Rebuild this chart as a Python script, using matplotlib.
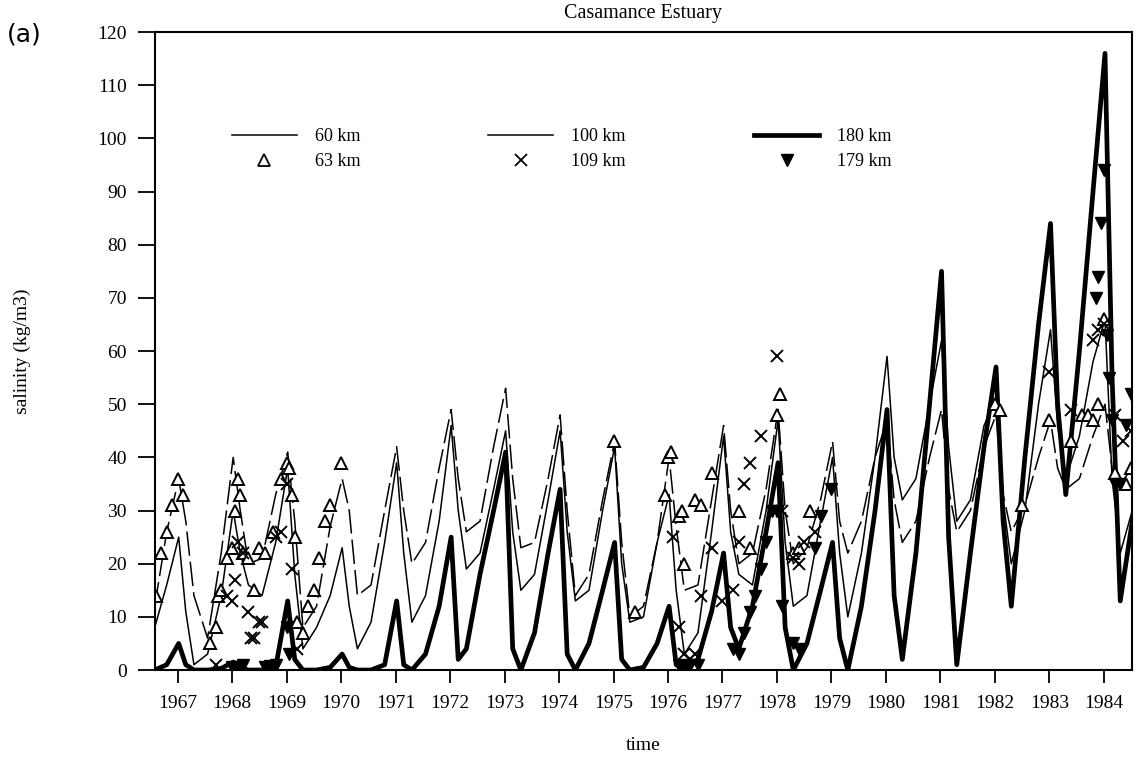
import numpy as np
import matplotlib
matplotlib.use("Agg")
import matplotlib.pyplot as plt
from matplotlib.lines import Line2D

plt.rcParams['font.family'] = ['Liberation Serif', 'DejaVu Serif']

# model output: one cycle per year, sampled at these fractions of the year
years = np.arange(1967, 1985)
phase = np.array([0.02, 0.15, 0.3, 0.55, 0.8])
t_start = [1966.58, 1966.8]
t_end = 1984.52

# 60 km (dashed)
s60 = [12, 26,
       36, 28, 14, 6, 22,
       40, 30, 20, 21, 33,
       41, 28, 8, 12, 27,
       36, 30, 14, 16, 30,
       42, 30, 20, 24, 38,
       49, 36, 26, 28, 42,
       53, 36, 23, 24, 36,
       48, 30, 14, 18, 32,
       43, 24, 10, 12, 24,
       40, 27, 15, 16, 32,
       46, 30, 20, 22, 34,
       49, 30, 20, 23, 32,
       43, 28, 22, 28, 40,
       47, 32, 24, 28, 40,
       49, 34, 26, 30, 42,
       48, 33, 26, 31, 40,
       47, 38, 34, 36, 44,
       50, 38, 35, 38]

# 100 km (thin)
s100 = [8, 16,
        25, 11, 1, 3, 14,
        30, 22, 16, 14, 24,
        38, 18, 4, 8, 14,
        23, 12, 4, 9, 24,
        39, 22, 9, 14, 28,
        46, 30, 19, 22, 34,
        45, 26, 15, 18, 32,
        45, 26, 13, 15, 30,
        42, 20, 9, 10, 24,
        33, 15, 3, 7, 26,
        44, 26, 18, 16, 30,
        47, 24, 12, 14, 28,
        40, 22, 10, 22, 40,
        59, 40, 32, 36, 50,
        62, 42, 28, 32, 46,
        51, 32, 20, 30, 50,
        64, 46, 36, 44, 58,
        66, 36, 22, 30]

# 180 km (thick)
s180 = [0, 1,
        5, 1, 0, 0, 0.3,
        1.5, 0.5, 0, 0, 0.5,
        13, 2, 0, 0, 0.5,
        3, 0.5, 0, 0, 1,
        13, 1, 0, 3, 12,
        25, 2, 4, 18, 30,
        41, 4, 0, 7, 22,
        34, 3, 0, 5, 15,
        24, 2, 0, 0.5, 5,
        12, 1, 0, 2, 11,
        22, 8, 4, 12, 26,
        39, 8, 0, 5, 15,
        24, 6, 0, 12, 30,
        49, 14, 2, 22, 50,
        75, 25, 1, 22, 42,
        57, 28, 12, 40, 65,
        84, 50, 33, 60, 90,
        116, 55, 13, 28]

# observations
obs63_t = [1966.6, 1966.7, 1966.8, 1966.9, 1967.0, 1967.1,
           1967.6, 1967.7, 1967.75, 1967.8, 1967.9, 1968.0, 1968.05, 1968.1,
           1968.15, 1968.2, 1968.3, 1968.4, 1968.5, 1968.6, 1968.75, 1968.9,
           1969.0, 1969.05, 1969.1, 1969.15, 1969.2, 1969.3, 1969.4, 1969.5,
           1969.6, 1969.7, 1969.8, 1970.0,
           1975.0, 1975.4, 1975.95, 1976.0, 1976.05, 1976.2, 1976.25, 1976.3,
           1976.5, 1976.6, 1976.8, 1977.3, 1977.5, 1978.0, 1978.05, 1978.3,
           1978.4, 1978.6, 1982.0, 1982.1, 1982.5, 1983.0, 1983.4, 1983.6,
           1983.7, 1983.8, 1983.9, 1984.0, 1984.2, 1984.4, 1984.5]
obs63_v = [14, 22, 26, 31, 36, 33,
           5, 8, 14, 15, 21, 23, 30, 36,
           33, 22, 21, 15, 23, 22, 26, 36,
           39, 38, 33, 25, 9, 7, 12, 15,
           21, 28, 31, 39,
           43, 11, 33, 40, 41, 29, 30, 20,
           32, 31, 37, 30, 23, 48, 52, 22,
           23, 30, 50, 49, 31, 47, 43, 48,
           48, 47, 50, 66, 37, 35, 38]

obs109_t = [1967.7, 1967.9, 1968.0, 1968.05, 1968.1, 1968.2, 1968.3, 1968.35,
            1968.4, 1968.5, 1968.55, 1968.8, 1968.9, 1969.0, 1969.1, 1969.2,
            1976.1, 1976.2, 1976.3, 1976.4, 1976.5, 1976.6, 1976.8, 1977.0,
            1977.2, 1977.3, 1977.4, 1977.5, 1977.7, 1978.0, 1978.1, 1978.3,
            1978.4, 1978.5, 1978.7,
            1983.0, 1983.4, 1983.8, 1983.9, 1984.0, 1984.2, 1984.35, 1984.5]
obs109_v = [1, 14, 13, 17, 24, 22, 11, 6,
            6, 9, 9, 25, 26, 35, 19, 4,
            25, 8, 3, 2, 3, 14, 23, 13,
            15, 24, 35, 39, 44, 59, 30, 21,
            20, 24, 26,
            56, 49, 62, 64, 65, 48, 43, 45]

obs179_t = [1968.0, 1968.1, 1968.2, 1968.6, 1968.7, 1968.8, 1969.0, 1969.05,
            1976.2, 1976.3, 1976.4, 1976.55, 1977.2, 1977.3, 1977.4, 1977.5,
            1977.6, 1977.7, 1977.8, 1977.9, 1978.0, 1978.1, 1978.3, 1978.4,
            1978.7, 1978.8, 1979.0,
            1983.85, 1983.9, 1983.95, 1984.0, 1984.05, 1984.1, 1984.15, 1984.2,
            1984.3, 1984.4, 1984.5]
obs179_v = [0.5, 0.5, 1, 0.5, 0.7, 1, 8, 3,
            1, 0.5, 1, 1, 4, 3, 7, 11,
            14, 19, 24, 30, 30, 12, 5, 4,
            23, 29, 34,
            70, 74, 84, 94, 63, 55, 47, 35,
            35, 46, 52]

# last cycle is cut short at the right edge
t_model = np.concatenate([t_start, (years[:, None] + phase).ravel()[:-2], [t_end]])

fig = plt.figure(figsize=(11.46, 7.64), dpi=100)
ax = fig.add_axes([0.135, 0.123, 0.853, 0.835])

ax.plot(t_model, s60, color='black', lw=1.1, ls=(0, (16, 4)))
ax.plot(t_model, s100, color='black', lw=1.1)
ax.plot(t_model, s180, color='black', lw=3.4)

ax.plot(obs63_t, obs63_v, ls='none', marker='^', ms=9, mfc='white', mec='black', mew=1.4)
ax.plot(obs109_t, obs109_v, ls='none', marker='x', ms=9, color='black', mew=1.4)
ax.plot(obs179_t, obs179_v, ls='none', marker='v', ms=8, color='black')

ax.set_xlim(1966.58, t_end)
ax.set_ylim(0, 120)
ax.set_xticks(years)
ax.set_yticks(np.arange(0, 121, 10))
ax.tick_params(axis='both', direction='out', labelsize=14, width=1.3)
ax.tick_params(axis='y', length=12, pad=8)
ax.tick_params(axis='x', length=9, pad=9)
for sp in ax.spines.values():
    sp.set_linewidth(1.5)

ax.set_title('Casamance Estuary', fontsize=14.5, pad=10)
ax.set_xlabel('time', fontsize=14, labelpad=18)
ax.set_ylabel('salinity (kg/m3)', fontsize=14, labelpad=48)
fig.text(0.006, 0.955, '(a)', fontsize=18, family='DejaVu Sans', va='center')

handles = [
    Line2D([], [], color='black', lw=1.1),
    Line2D([], [], ls='none', marker='^', ms=8, mfc='white', mec='black', mew=1.3),
    Line2D([], [], color='black', lw=1.1),
    Line2D([], [], ls='none', marker='x', ms=8, color='black', mew=1.3),
    Line2D([], [], color='black', lw=3.4),
    Line2D([], [], ls='none', marker='v', ms=8, color='black'),
]
labels = ['60 km', '63 km', '100 km', '109 km', '180 km', '179 km']
ax.legend(handles, labels, ncol=3, frameon=False, fontsize=13,
          loc='upper left', bbox_to_anchor=(0.062, 0.875),
          handlelength=3.6, handletextpad=1.0, columnspacing=7.1,
          labelspacing=0.45)

fig.savefig('out.png', dpi=100)
